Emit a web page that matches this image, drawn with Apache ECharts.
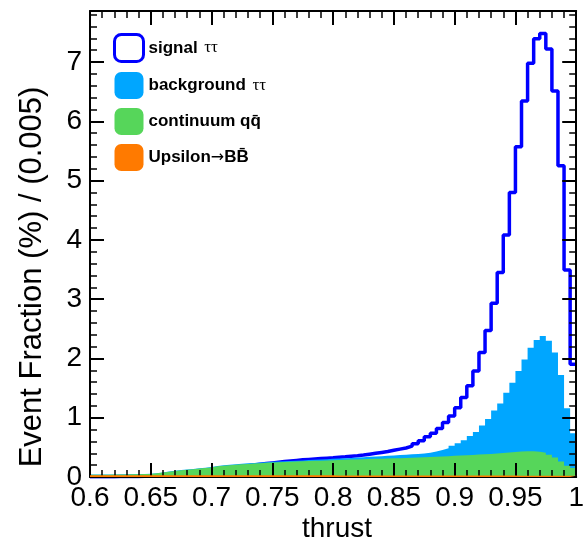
<!DOCTYPE html>
<html>
<head>
<meta charset="utf-8">
<script src="https://cdn.jsdelivr.net/npm/echarts@6/dist/echarts.min.js"></script>
<style>
  html, body { margin: 0; padding: 0; background: #fff; }
  #chart { width: 587px; height: 547px; }
</style>
</head>
<body>
<div id="chart"></div>
<script>
// Thrust distributions, 80 bins of width 0.005 from 0.6 to 1.0, in % of events per bin
const THRUST_LO = 0.6;
const BIN_WIDTH = 0.005;
const N_BINS = 80;

const signalTauTau = [
  0.005,0.005,0.006,0.006,0.007,0.008,0.009,0.010,0.011,0.012,
  0.020,0.030,0.040,0.050,0.060,0.070,0.080,0.090,0.100,0.110,
  0.130,0.142,0.154,0.166,0.178,0.190,0.202,0.214,0.226,0.238,
  0.250,0.260,0.270,0.280,0.290,0.297,0.304,0.311,0.318,0.325,
  0.335,0.343,0.352,0.360,0.370,0.385,0.400,0.415,0.430,0.450,
  0.470,0.490,0.520,0.560,0.610,0.680,0.740,0.820,0.920,1.030,
  1.170,1.340,1.540,1.790,2.100,2.470,2.930,3.450,4.080,4.800,
  5.570,6.340,6.980,7.390,7.480,7.220,6.510,5.250,3.490,1.900
];

const backgroundTauTau = [
  0.002,0.002,0.002,0.002,0.002,0.002,0.002,0.002,0.002,0.002,
  0.003,0.003,0.003,0.004,0.004,0.004,0.005,0.005,0.005,0.006,
  0.006,0.007,0.007,0.008,0.008,0.009,0.009,0.010,0.011,0.012,
  0.012,0.013,0.014,0.015,0.016,0.017,0.018,0.019,0.021,0.023,
  0.024,0.026,0.028,0.031,0.034,0.037,0.040,0.043,0.046,0.049,
  0.052,0.054,0.056,0.059,0.062,0.072,0.088,0.108,0.133,0.168,
  0.208,0.253,0.318,0.382,0.486,0.590,0.722,0.834,1.006,1.168,
  1.360,1.546,1.746,1.885,1.970,1.925,1.770,1.460,0.970,0.590
];

const continuumQQ = [
  0.010,0.010,0.010,0.012,0.012,0.014,0.016,0.018,0.020,0.022,
  0.032,0.045,0.058,0.070,0.082,0.092,0.102,0.112,0.122,0.132,
  0.150,0.160,0.168,0.176,0.184,0.191,0.198,0.204,0.209,0.214,
  0.218,0.222,0.226,0.230,0.234,0.238,0.242,0.246,0.250,0.254,
  0.263,0.266,0.269,0.272,0.275,0.278,0.281,0.284,0.287,0.290,
  0.293,0.297,0.301,0.305,0.309,0.313,0.317,0.322,0.327,0.332,
  0.337,0.342,0.347,0.353,0.359,0.365,0.373,0.381,0.389,0.397,
  0.410,0.414,0.414,0.405,0.390,0.355,0.310,0.240,0.170,0.130
];

const upsilonBB = [
  0.030,0.030,0.030,0.030,0.030,0.030,0.030,0.030,0.030,0.030,
  0.030,0.030,0.030,0.030,0.030,0.030,0.030,0.030,0.030,0.030,
  0.030,0.030,0.030,0.030,0.030,0.030,0.030,0.030,0.030,0.030,
  0.030,0.030,0.030,0.030,0.030,0.030,0.030,0.030,0.030,0.030,
  0.025,0.025,0.025,0.025,0.025,0.025,0.025,0.025,0.025,0.025,
  0.025,0.025,0.025,0.025,0.025,0.025,0.025,0.025,0.025,0.025,
  0.025,0.025,0.025,0.025,0.025,0.025,0.025,0.025,0.025,0.025,
  0.020,0.020,0.020,0.020,0.020,0.020,0.020,0.020,0.020,0.020
];

const COLORS = {
  signal: '#0000ff',
  background: '#00a6ff',
  continuum: '#56d65a',
  upsilon: '#ff7a00'
};

// Low edges of every bin plus the upper edge of the last one
const binEdges = [];
for (let k = 0; k <= N_BINS; k++) binEdges.push(+(THRUST_LO + k * BIN_WIDTH).toFixed(3));

// Histogram outline as points at bin edges (drawn with step: 'end')
function histPoints(values) {
  const pts = values.map((v, k) => [binEdges[k], v]);
  pts.push([binEdges[N_BINS], values[values.length - 1]]);
  return pts;
}

// Stack: Upsilon -> continuum -> background tau tau
const stackUps = upsilonBB.slice();
const stackCont = upsilonBB.map((v, k) => v + continuumQQ[k]);
const stackBkg = stackCont.map((v, k) => v + backgroundTauTau[k]);

const FONT = '"Liberation Sans", Arial, Helvetica, sans-serif';

function frameAxis(extra) {
  return Object.assign({
    type: 'value',
    axisLine: { show: true, onZero: false, lineStyle: { color: '#000', width: 2 } },
    axisTick: { show: true, inside: true, length: 14, lineStyle: { color: '#000', width: 2 } },
    minorTick: { show: true, splitNumber: 5, length: 7, lineStyle: { color: '#000', width: 1.5 } },
    splitLine: { show: false },
    z: 10
  }, extra);
}

const chart = echarts.init(document.getElementById('chart'), null, { renderer: 'canvas' });

chart.setOption({
  animation: false,
  backgroundColor: '#fff',
  grid: { left: 90, right: 1, top: 11, bottom: 70, containLabel: false },
  xAxis: [
    frameAxis({
      position: 'bottom', min: 0.6, max: 1.0, interval: 0.05,
      axisLabel: { color: '#000', fontSize: 28, fontFamily: FONT, margin: 7 }
    }),
    frameAxis({
      position: 'top', min: 0.6, max: 1.0, interval: 0.05,
      axisLabel: { show: false }
    })
  ],
  yAxis: [
    frameAxis({
      position: 'left', min: 0, max: 7.86, interval: 1,
      axisLabel: { color: '#000', fontSize: 28, fontFamily: FONT, margin: 8, showMaxLabel: false }
    }),
    frameAxis({
      position: 'right', min: 0, max: 7.86, interval: 1,
      axisLabel: { show: false }
    })
  ],
  legend: {
    orient: 'vertical',
    left: 113,
    top: 33,
    padding: 0,
    itemWidth: 29,
    itemHeight: 27,
    itemGap: 9,
    selectedMode: false,
    data: [
      { name: 'signal', icon: 'roundRect', itemStyle: { color: '#fff', borderColor: COLORS.signal, borderWidth: 3 } },
      { name: 'background', icon: 'roundRect', itemStyle: { color: COLORS.background, borderWidth: 0 } },
      { name: 'continuum', icon: 'roundRect', itemStyle: { color: COLORS.continuum, borderWidth: 0 } },
      { name: 'upsilon', icon: 'roundRect', itemStyle: { color: COLORS.upsilon, borderWidth: 0 } }
    ],
    formatter: function (name) {
      if (name === 'signal') return '{b|signal}  {g|ττ}';
      if (name === 'background') return '{b|background}  {g|ττ}';
      if (name === 'continuum') return '{b|continuum q}{b|q\u0304}';
      return '{b|Upsilon}{a|→}{b|B}{b|B\u0304}';
    },
    textStyle: {
      color: '#000',
      rich: {
        b: { fontFamily: FONT, fontWeight: 'bold', fontSize: 17, color: '#000' },
        g: { fontFamily: '"Liberation Serif", "DejaVu Serif", serif', fontSize: 17, color: '#000' },
        a: { fontFamily: '"DejaVu Sans", sans-serif', fontSize: 16, color: '#000' }
      }
    }
  },
  graphic: [
    {
      type: 'text',
      x: 32, y: 277,
      rotation: Math.PI / 2,
      style: {
        text: 'Event Fraction (%) / (0.005)',
        font: '31px ' + FONT,
        fill: '#000',
        align: 'center',
        verticalAlign: 'middle'
      }
    },
    {
      type: 'text',
      x: 337, y: 529,
      style: {
        text: 'thrust',
        font: '28px ' + FONT,
        fill: '#000',
        align: 'center',
        verticalAlign: 'middle'
      }
    }
  ],
  series: [
    {
      name: 'signal',
      type: 'line',
      step: 'end',
      data: histPoints(signalTauTau),
      showSymbol: false,
      symbol: 'none',
      color: COLORS.signal,
      lineStyle: { color: COLORS.signal, width: 3.5 },
      z: 2
    },
    {
      name: 'background',
      type: 'line',
      step: 'end',
      data: histPoints(stackBkg),
      showSymbol: false,
      symbol: 'none',
      color: COLORS.background,
      lineStyle: { width: 0 },
      areaStyle: { color: COLORS.background, opacity: 1 },
      z: 3
    },
    {
      name: 'continuum',
      type: 'line',
      step: 'end',
      data: histPoints(stackCont),
      showSymbol: false,
      symbol: 'none',
      color: COLORS.continuum,
      lineStyle: { width: 0 },
      areaStyle: { color: COLORS.continuum, opacity: 1 },
      z: 4
    },
    {
      name: 'upsilon',
      type: 'line',
      step: 'end',
      data: histPoints(stackUps),
      showSymbol: false,
      symbol: 'none',
      color: COLORS.upsilon,
      lineStyle: { width: 0 },
      areaStyle: { color: COLORS.upsilon, opacity: 1 },
      z: 11
    }
  ]
});
</script>
</body>
</html>
